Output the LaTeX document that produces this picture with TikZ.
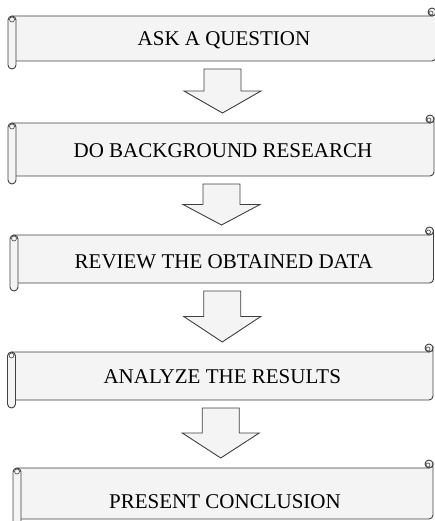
\documentclass[tikz,border=0pt]{standalone}
\usepackage{fontspec}
\setmainfont{Liberation Serif}
\usetikzlibrary{calc}

\definecolor{scrollfill}{HTML}{F4F4F4}
\definecolor{scrollline}{HTML}{404040}

\tikzset{
  scrollbody/.style={inner sep=0pt, outer sep=0pt},
  scrolltext/.style={inner sep=0pt, font=\fontsize{21}{24}\selectfont},
  rollline/.style={draw=scrollline, line width=0.9pt, fill=scrollfill},
}

% scroll outline around a body node: roll on the left, curl top right
\newcommand{\scrollframe}[1]{%
  \draw[rollline] (#1.north west) -- ([xshift=-4pt]#1.north east)
    arc[start angle=270, end angle=360, radius=4pt]
    -- ([yshift=4pt]#1.south east)
    arc[start angle=0, end angle=-90, radius=4pt]
    -- (#1.south west) -- cycle;
  \draw[rollline] ([xshift=-4pt,yshift=4pt]#1.north east) circle[radius=4pt];
  \draw[scrollline, line width=0.6pt] ([xshift=-5pt,yshift=3pt]#1.north east) circle[radius=2pt];
  \draw[rollline, rounded corners=4pt] ([xshift=-4pt]#1.north west) rectangle ([xshift=4pt,yshift=-8pt]#1.south west);
  \draw[scrollline, line width=0.6pt] ([yshift=-3.5pt]#1.north west) circle[radius=2.5pt];
}

% block arrow from one body down to the next
\newcommand{\blockarrow}[2]{%
  \draw[rollline] let \p1=([xshift=-1.5pt,yshift=-8pt]#1.south),
                      \p2=([yshift=10pt]#2.north),
                      \n1={(\y1+\y2)/2} in
    (\x1-18.5pt,\y1) -- (\x1+18.5pt,\y1) -- (\x1+18.5pt,\n1) -- (\x1+38.5pt,\n1)
    -- (\x1,\y2) -- (\x1-38.5pt,\n1) -- (\x1-18.5pt,\n1) -- cycle;
}

\begin{document}
\begin{tikzpicture}[x=1pt,y=1pt]
\useasboundingbox (0,0) rectangle (435,-521);

\node[scrollbody, minimum width=424pt, minimum height=45pt] (askbox) at (224,-38.5) {};
\node[scrollbody, minimum width=422pt, minimum height=53pt] (researchbox) at (223,-149.5) {};
\node[scrollbody, minimum width=419.5pt, minimum height=48pt] (reviewbox) at (223.75,-259) {};
\node[scrollbody, minimum width=421.5pt, minimum height=48pt] (analyzebox) at (222.25,-376) {};
\node[scrollbody, minimum width=416pt, minimum height=51pt] (presentbox) at (225,-493.5) {};

\scrollframe{askbox}
\scrollframe{researchbox}
\scrollframe{reviewbox}
\scrollframe{analyzebox}
\scrollframe{presentbox}

\node[scrolltext] (ask) at ([yshift=-2pt]askbox.center) {ASK A QUESTION};
\node[scrolltext] (research) at ([yshift=-1pt]researchbox.center) {DO BACKGROUND RESEARCH};
\node[scrolltext] (review) at ([yshift=-3pt]reviewbox.center) {REVIEW THE OBTAINED DATA};
\node[scrolltext] (analyze) at ([yshift=-1pt]analyzebox.center) {ANALYZE THE RESULTS};
\node[scrolltext] (present) at ([yshift=-8pt]presentbox.center) {PRESENT CONCLUSION};

\blockarrow{askbox}{researchbox}
\blockarrow{researchbox}{reviewbox}
\blockarrow{reviewbox}{analyzebox}
\blockarrow{analyzebox}{presentbox}
\end{tikzpicture}
\end{document}
